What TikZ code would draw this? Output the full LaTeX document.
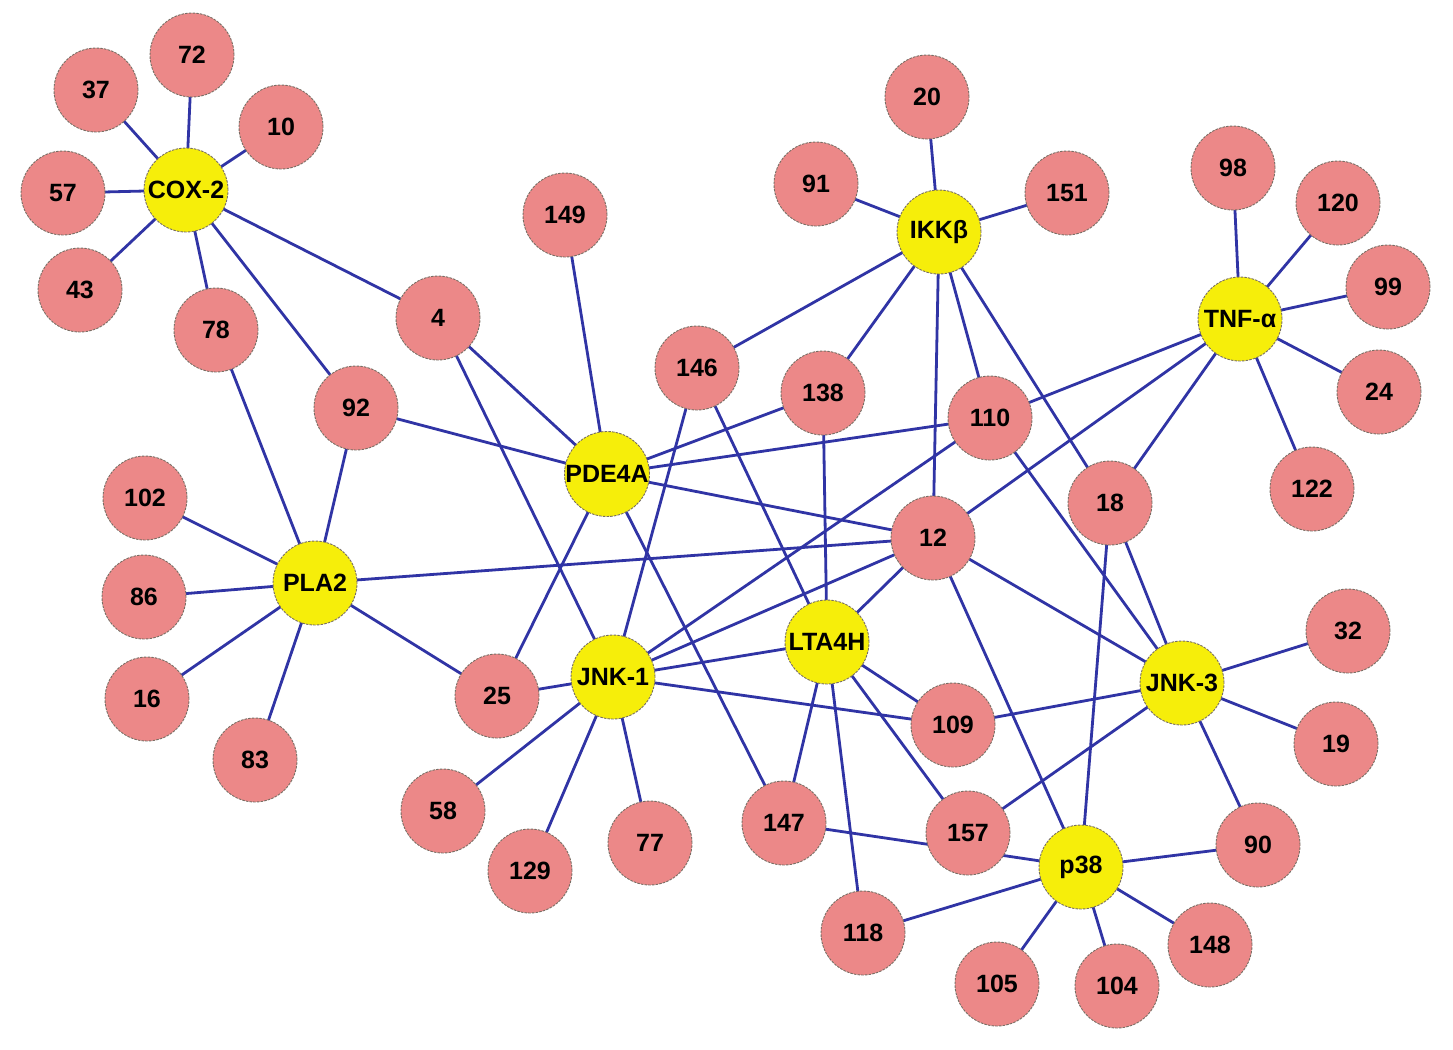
\documentclass[tikz,border=0pt]{standalone}
\usepackage{fontspec}
\setmainfont{Liberation Sans}
\usetikzlibrary{backgrounds}
\definecolor{edgeblue}{RGB}{48,52,165}
\definecolor{pinkfill}{RGB}{236,136,136}
\definecolor{yellowfill}{RGB}{246,238,10}
\definecolor{rimgray}{RGB}{120,110,100}
\tikzset{
  base/.style={circle,minimum size=84pt,inner sep=0pt,draw=rimgray,line width=0.9pt,
    dash pattern=on 2.5pt off 1.2pt,font=\fontsize{25}{25}\selectfont\bfseries},
  pk/.style={base,fill=pinkfill},
  yw/.style={base,fill=yellowfill},
  link/.style={draw=edgeblue,line width=2.8pt}
}
\begin{document}
\begin{tikzpicture}[x=1pt,y=-1pt]
\useasboundingbox (0,0) rectangle (1453,1049);
% hubs
\node[yw] (cox) at (186,190) {COX-2};
\node[yw] (pla) at (315,583) {PLA2};
\node[yw] (pde) at (607,474) {PDE4A};
\node[yw] (jnk1) at (613,677) {JNK-1};
\node[yw] (lta) at (827,642) {LTA4H};
\node[yw] (ikk) at (939,232) {IKKβ};
\node[yw] (tnf) at (1240,319) {TNF-α};
\node[yw] (jnk3) at (1182,683) {JNK-3};
\node[yw] (p38) at (1081,867) {p38};
% pink
\node[pk] (n37) at (96,90) {37};
\node[pk] (n72) at (192,55) {72};
\node[pk] (n10) at (281,127) {10};
\node[pk] (n57) at (63,193) {57};
\node[pk] (n43) at (80,290) {43};
\node[pk] (n78) at (216,330) {78};
\node[pk] (n4) at (438,318) {4};
\node[pk] (n149) at (565,215) {149};
\node[pk] (n92) at (356,408) {92};
\node[pk] (n102) at (145,498) {102};
\node[pk] (n86) at (144,597) {86};
\node[pk] (n16) at (147,699) {16};
\node[pk] (n83) at (255,760) {83};
\node[pk] (n146) at (697,368) {146};
\node[pk] (n138) at (823,393) {138};
\node[pk] (n91) at (816,184) {91};
\node[pk] (n20) at (927,97) {20};
\node[pk] (n151) at (1067,193) {151};
\node[pk] (n110) at (990,418) {110};
\node[pk] (n98) at (1233,168) {98};
\node[pk] (n120) at (1338,203) {120};
\node[pk] (n99) at (1388,287) {99};
\node[pk] (n24) at (1379,392) {24};
\node[pk] (n122) at (1312,489) {122};
\node[pk] (n18) at (1110,503) {18};
\node[pk] (n12) at (933,538) {12};
\node[pk] (n25) at (497,696) {25};
\node[pk] (n58) at (443,811) {58};
\node[pk] (n129) at (530,871) {129};
\node[pk] (n77) at (650,843) {77};
\node[pk] (n147) at (784,823) {147};
\node[pk] (n109) at (953,725) {109};
\node[pk] (n157) at (968,833) {157};
\node[pk] (n118) at (863,933) {118};
\node[pk] (n105) at (997,984) {105};
\node[pk] (n104) at (1117,986) {104};
\node[pk] (n148) at (1210,945) {148};
\node[pk] (n90) at (1258,845) {90};
\node[pk] (n19) at (1336,744) {19};
\node[pk] (n32) at (1348,631) {32};
\begin{pgfonlayer}{background}
\fill[white] (0,0) rectangle (1453,1049);
\foreach \a/\b in {cox/n37,cox/n72,cox/n10,cox/n57,cox/n43,cox/n78,cox/n92,cox/n4,
  pla/n78,pla/n92,pla/n102,pla/n86,pla/n16,pla/n83,pla/n25,pla/n12,
  pde/n149,pde/n4,pde/n92,pde/n138,pde/n110,pde/n12,pde/n25,pde/n147,
  jnk1/n4,jnk1/n146,jnk1/n25,jnk1/n58,jnk1/n129,jnk1/n77,jnk1/lta,jnk1/n109,jnk1/n12,jnk1/n110,
  lta/n146,lta/n138,lta/n12,lta/n109,lta/n157,lta/n147,lta/n118,
  ikk/n20,ikk/n91,ikk/n151,ikk/n146,ikk/n138,ikk/n12,ikk/n110,ikk/n18,
  tnf/n98,tnf/n120,tnf/n99,tnf/n24,tnf/n122,tnf/n110,tnf/n12,tnf/n18,
  jnk3/n12,jnk3/n110,jnk3/n18,jnk3/n32,jnk3/n19,jnk3/n90,jnk3/n109,jnk3/n157,
  p38/n12,p38/n18,p38/n118,p38/n105,p38/n104,p38/n148,p38/n90}
  \draw[link] (\a.center) -- (\b.center);
\draw[link] (n147.center) -- (p38.center);
\end{pgfonlayer}
\end{tikzpicture}
\end{document}
